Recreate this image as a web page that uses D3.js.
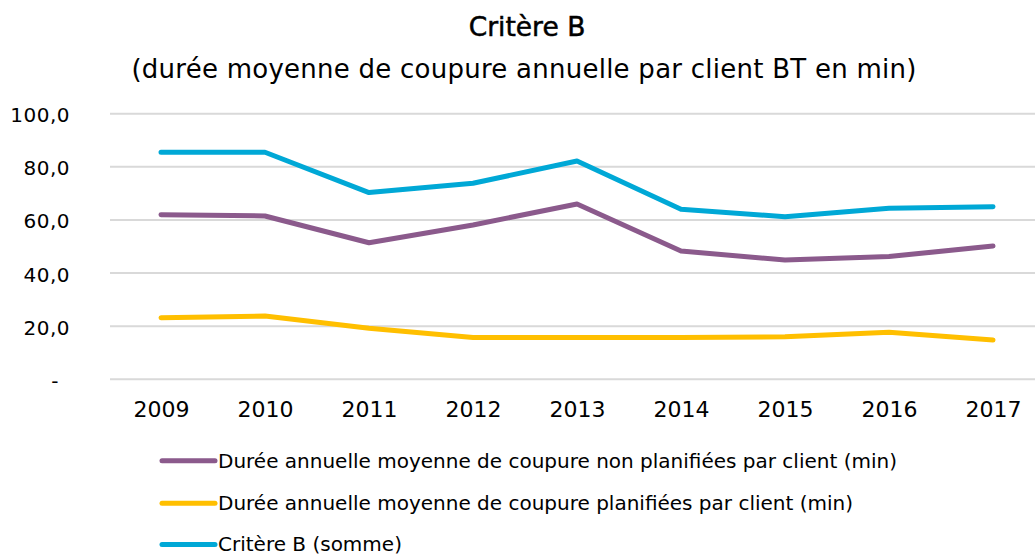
<!DOCTYPE html>
<html><head><meta charset="utf-8">
<script src="https://cdn.jsdelivr.net/npm/d3@7"></script>
<style>body{margin:0;background:#fff}svg{display:block}text{font-family:"DejaVu Sans",sans-serif;fill:#000}</style>
</head><body>
<svg id="c" width="1035" height="556"></svg>
<script>
const years = ["2009","2010","2011","2012","2013","2014","2015","2016","2017"];
const nonPlanifiees = [62.0,61.5,51.4,58.1,66.0,48.3,44.9,46.2,50.2];
const planifiees = [23.2,23.8,19.2,15.7,15.7,15.7,16.0,17.7,14.8];
const critereB = [85.5,85.5,70.3,73.8,82.2,64.0,61.2,64.4,65.0];
const yTicks = [0,20,40,60,80,100];
const seriesNames = ["Durée annuelle moyenne de coupure non planifiées par client (min)","Durée annuelle moyenne de coupure planifiées par client (min)","Critère B (somme)"];
const colors = ["#8B5A8C","#FFBF00","#00A8D6"];
const title = "Critère B";
const subtitle = "(durée moyenne de coupure annuelle par client BT en min)";

const svg = d3.select("#c");
const x = d3.scalePoint().domain(years).range([161,993]);
const y = d3.scaleLinear().domain([0,100]).range([379.3,113.7]);

svg.append("text").attr("x",527).attr("y",36).attr("text-anchor","middle").attr("font-size",26.5)
  .attr("stroke","#000").attr("stroke-width",0.5).text(title);
svg.append("text").attr("x",524).attr("y",77.7).attr("text-anchor","middle").attr("font-size",26)
  .attr("letter-spacing",0.25).text(subtitle);

// gridlines
svg.append("g").selectAll("line").data(yTicks).join("line")
  .attr("x1",110).attr("x2",1035).attr("y1",d=>y(d)).attr("y2",d=>y(d))
  .attr("stroke","#d9d9d9").attr("stroke-width",2);

// y axis labels
const yAxis = d3.axisLeft(y).tickValues(yTicks).tickSize(0).tickPadding(0)
  .tickFormat(d=> d===0 ? "-" : d3.format(".1f")(d).replace(".",","));
const ya = svg.append("g").attr("transform","translate(70,0)").call(yAxis);
ya.select(".domain").remove();
ya.selectAll("text").attr("font-size",20).attr("fill","#000").style("font-family","'DejaVu Sans'")
  .attr("letter-spacing",0.5).attr("dy","0.4em").attr("dx",d=>d===0?-11:0);

// x axis labels
const xAxis = d3.axisBottom(x).tickSize(0).tickPadding(0);
const xa = svg.append("g").attr("transform","translate(0,417.3)").call(xAxis);
xa.select(".domain").remove();
xa.selectAll("text").attr("font-size",22).attr("fill","#000").style("font-family","'DejaVu Sans'").attr("dy",0);

const line = d3.line().x((d,i)=>x(years[i])).y(d=>y(d));
const data = [nonPlanifiees, planifiees, critereB];
svg.append("g").selectAll("path").data(data).join("path")
  .attr("d",line).attr("fill","none").attr("stroke",(d,i)=>colors[i])
  .attr("stroke-width",5).attr("stroke-linecap","round").attr("stroke-linejoin","round");

// legend
const lg = svg.append("g").selectAll("g").data(seriesNames).join("g")
  .attr("transform",(d,i)=>`translate(0,${[460.7,503.3,544.5][i]})`);
lg.append("line").attr("x1",162).attr("x2",215).attr("y1",0).attr("y2",0)
  .attr("stroke",(d,i)=>colors[i]).attr("stroke-width",5).attr("stroke-linecap","round");
lg.append("text").attr("x",218).attr("y",6.8).attr("font-size",20).text(d=>d);
</script>
</body></html>
